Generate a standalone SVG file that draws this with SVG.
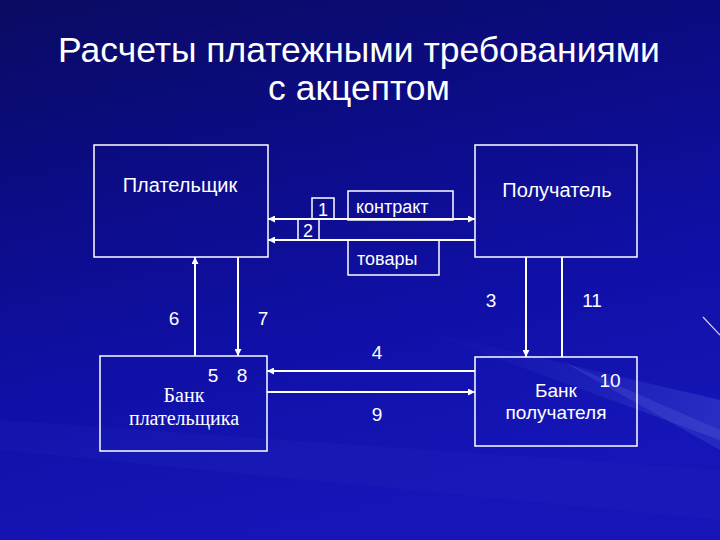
<svg xmlns="http://www.w3.org/2000/svg" width="720" height="540" viewBox="0 0 720 540">
<defs>
<linearGradient id="bg" x1="0" y1="0" x2="0.3" y2="1">
<stop offset="0" stop-color="#0a0a62"/>
<stop offset="0.35" stop-color="#0c0c86"/>
<stop offset="0.7" stop-color="#1010a8"/>
<stop offset="1" stop-color="#1616b8"/>
</linearGradient>
<linearGradient id="streak" x1="0" y1="0" x2="1" y2="0">
<stop offset="0" stop-color="#5a6ae8" stop-opacity="0"/>
<stop offset="0.6" stop-color="#5a6ae8" stop-opacity="0.3"/>
<stop offset="1" stop-color="#7a8af0" stop-opacity="0.45"/>
</linearGradient>
<marker id="ah" viewBox="0 0 8 8" refX="8" refY="4" markerWidth="7" markerHeight="7" markerUnits="userSpaceOnUse" orient="auto-start-reverse">
<path d="M0,0 L8,4 L0,8 z" fill="#ffffff"/>
</marker>
<style>
.box{fill:none;stroke:#ffffff;stroke-width:1.5}
.t{fill:#ffffff;font-family:"Liberation Sans",Arial,sans-serif;font-size:18px}
.n{fill:#ffffff;font-family:"Liberation Sans",Arial,sans-serif;font-size:19px}
.h{fill:#ffffff;font-family:"Liberation Sans",Arial,sans-serif;font-size:20px}
.s{fill:#ffffff;font-family:"Liberation Serif","Times New Roman",serif;font-size:20px}
.ttl{fill:#ffffff;font-family:"Liberation Sans",Arial,sans-serif;font-size:35.5px}
.c{fill:none;stroke:#ffffff;stroke-width:2}
</style>
</defs>
<rect width="720" height="540" fill="url(#bg)"/>
<path d="M420,330 L720,400 L720,440 Z" fill="url(#streak)" opacity="0.45"/>
<path d="M560,360 L720,430 L720,450 Z" fill="#6a7ae8" opacity="0.2"/>
<path d="M0,420 L720,470 L720,520 L0,450 Z" fill="#2a2ac0" opacity="0.2"/>
<line x1="703" y1="317" x2="720" y2="335" stroke="#e8c8f0" stroke-width="1.2"/>

<text class="ttl" x="359" y="62" text-anchor="middle">Расчеты платежными требованиями</text>
<text class="ttl" x="359" y="100" text-anchor="middle">с акцептом</text>

<g id="payer">
<rect class="box" x="94" y="145" width="174" height="112"/>
<text class="h" x="180" y="192" text-anchor="middle">Плательщик</text>
</g>
<g id="recipient">
<rect class="box" x="475" y="145" width="162" height="112"/>
<text class="h" x="557" y="197" text-anchor="middle">Получатель</text>
</g>
<g id="bank-payer">
<rect class="box" x="100" y="356" width="167" height="95"/>
<text class="s" x="184" y="402" text-anchor="middle">Банк</text>
<text class="s" x="184" y="425" text-anchor="middle">плательщика</text>
</g>
<g id="bank-recipient">
<rect class="box" x="475" y="357" width="162" height="89"/>
<text class="n" x="556" y="397" text-anchor="middle">Банк</text>
<text class="n" x="556" y="419" text-anchor="middle">получателя</text>
</g>
<g id="box-1">
<rect class="box" x="312" y="198" width="22" height="21"/>
<text class="t" x="323" y="216" text-anchor="middle" font-size="12">1</text>
</g>
<g id="box-2">
<rect class="box" x="298" y="219" width="21" height="21"/>
<text class="t" x="308" y="237" text-anchor="middle" font-size="14">2</text>
</g>
<g id="box-contract">
<rect class="box" x="348" y="191" width="105" height="29"/>
<text class="t" x="356" y="213">контракт</text>
</g>
<g id="box-goods">
<rect class="box" x="348" y="240" width="91" height="35"/>
<text class="t" x="357" y="265">товары</text>
</g>

<g id="connectors">
<line class="c" x1="268" y1="219" x2="475" y2="219" marker-start="url(#ah)" marker-end="url(#ah)"/>
<line class="c" x1="475" y1="240" x2="268" y2="240" stroke-width="2.5" marker-end="url(#ah)"/>
<line class="c" x1="195" y1="356" x2="195" y2="257" marker-end="url(#ah)"/>
<line class="c" x1="238" y1="257" x2="238" y2="356" marker-end="url(#ah)"/>
<line class="c" x1="526" y1="257" x2="526" y2="357" marker-end="url(#ah)"/>
<line class="c" x1="562" y1="357" x2="562" y2="257"/>
<line class="c" x1="475" y1="371" x2="267" y2="371" stroke-width="2.5" marker-end="url(#ah)"/>
<line class="c" x1="267" y1="392" x2="475" y2="392" stroke-width="1.5" marker-end="url(#ah)"/>
</g>

<g id="labels">
<text class="n" x="174" y="325" text-anchor="middle">6</text>
<text class="n" x="263" y="325" text-anchor="middle">7</text>
<text class="n" x="377" y="359" text-anchor="middle">4</text>
<text class="n" x="377" y="421" text-anchor="middle">9</text>
<text class="n" x="213" y="382" text-anchor="middle">5</text>
<text class="n" x="242" y="382" text-anchor="middle">8</text>
<text class="n" x="491" y="307" text-anchor="middle">3</text>
<text class="n" x="592" y="307" text-anchor="middle">11</text>
<text class="n" x="610" y="387" text-anchor="middle">10</text>
</g>
</svg>
